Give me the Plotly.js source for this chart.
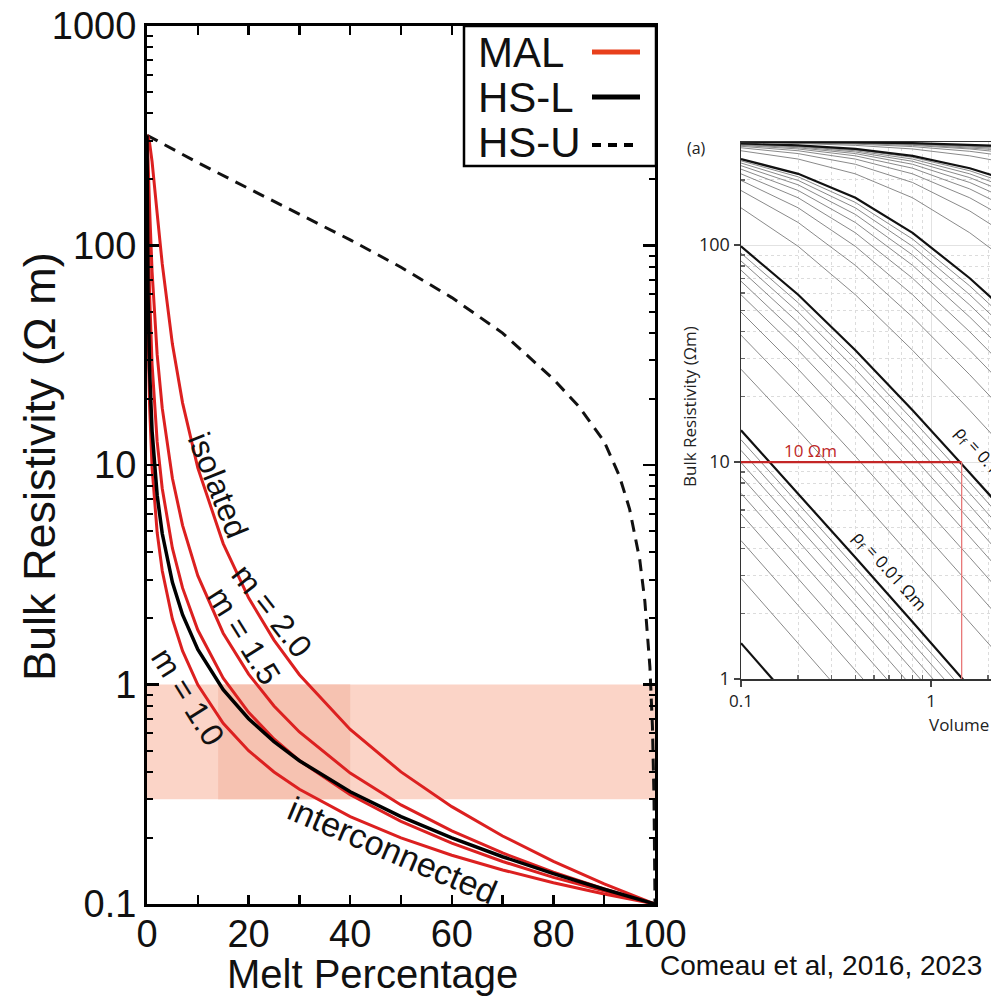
<!DOCTYPE html>
<html><head><meta charset="utf-8">
<script src="https://cdn.plot.ly/plotly-3.0.1.min.js"></script>
<style>html,body{margin:0;padding:0;background:#fff;overflow:hidden}</style>
</head><body><div id="chart" style="width:991px;height:998px"></div>
<script>
// ---------- Left chart: bulk resistivity vs melt percentage ----------
const meltPct = [0, 0.1, 0.2, 0.5, 1, 2, 3, 5, 7, 10, 15, 20, 25, 30, 40, 50, 60, 70, 80, 90, 95, 100];
const malM10  = [318, 76.1, 43.2, 18.82, 9.70, 4.924, 3.300, 1.988, 1.423, 0.997, 0.6655, 0.4994, 0.3996, 0.3331, 0.2499, 0.1999, 0.1667, 0.1429, 0.125, 0.1111, 0.1053, 0.1];
const malM125 = [318, 203.2, 135.6, 60.88, 28.78, 12.77, 7.819, 4.176, 2.755, 1.770, 1.068, 0.7464, 0.565, 0.4501, 0.3144, 0.2378, 0.1894, 0.1562, 0.1322, 0.1141, 0.1067, 0.1];
const malM15  = [318, 288.9, 247.6, 149.7, 76.1, 31.83, 18.15, 8.70, 5.311, 3.132, 1.713, 1.115, 0.7985, 0.6078, 0.395, 0.2828, 0.2152, 0.1708, 0.1398, 0.1172, 0.108, 0.1];
const malM20  = [318, 317, 314, 294.5, 241.2, 140.0, 82.4, 35.55, 19.19, 9.701, 4.386, 2.482, 1.593, 1.108, 0.6242, 0.3997, 0.2777, 0.2041, 0.1563, 0.1235, 0.1108, 0.1];
const hsLower = [318, 101.9, 60.66, 27.38, 14.28, 7.281, 4.875, 2.923, 2.080, 1.444, 0.9473, 0.6986, 0.5492, 0.4495, 0.3247, 0.2499, 0.1999, 0.1642, 0.1375, 0.1167, 0.1079, 0.1];
const hsUpperX = [0, 10, 20, 30, 40, 50, 60, 70, 80, 85, 90, 93, 95, 97, 98, 99, 99.5, 99.8, 100];
const hsUpperY = [318, 238.5, 181.8, 139.2, 106.1, 79.6, 57.9, 39.9, 24.6, 18.5, 12.8, 8.9, 6.3, 3.7, 2.4, 1.2, 0.64, 0.31, 0.1];
const bandX = [0, 100, 100, 0, 0];
const bandY = [0.3, 0.3, 1, 1, 0.3];
const darkBandX = [14, 40, 40, 14, 14];
const darkBandY = [0.3, 0.3, 1, 1, 0.3];
const leftXTicks = [0, 10, 20, 30, 40, 50, 60, 70, 80, 90, 100];
const leftXTickText = ['0', '', '20', '', '40', '', '60', '', '80', '', '100'];
const leftYTicks = [0.1, 1, 10, 100, 1000];
const leftYTickText = ['0.1', '1', '10', '100', '1000'];
const leftYMinor = [0.2,0.3,0.4,0.5,0.6,0.7,0.8,0.9,2,3,4,5,6,7,8,9,20,30,40,50,60,70,80,90,200,300,400,500,600,700,800,900];

// ---------- Right chart (cropped): bulk resistivity vs volume ----------
const volX = [0.1, 0.2, 0.4, 0.8, 1.6, 2.2];
const fluidRes = [0.001,0.002,0.003,0.004,0.005,0.006,0.007,0.008,0.009,
                  0.01,0.02,0.03,0.04,0.05,0.06,0.07,0.08,0.09,
                  0.1,0.2,0.3,0.4,0.5,0.6,0.7,0.8,0.9,
                  1,2,3,4,5,6,7,8,9,
                  10,20,30,40,50,60,70,80,90,100];
const thickRes = [0.001, 0.01, 0.1, 1, 10, 100];
const bulkCurves = [
  [1.463, 0.7332, 0.3671, 0.1837, 0.0919, 0.0668],
  [2.911, 1.4629, 0.7332, 0.3670, 0.1837, 0.1336],
  [4.346, 2.189, 1.0986, 0.5503, 0.2754, 0.2003],
  [5.767, 2.911, 1.4629, 0.7332, 0.3670, 0.2671],
  [7.174, 3.630, 1.8263, 0.9159, 0.4587, 0.3337],
  [8.568, 4.346, 2.189, 1.0986, 0.5503, 0.4004],
  [9.949, 5.056, 2.551, 1.2810, 0.6418, 0.4670],
  [11.32, 5.767, 2.911, 1.4629, 0.7332, 0.5336],
  [12.67, 6.473, 3.271, 1.6447, 0.8246, 0.6001],
  [14.01, 7.17, 3.63, 1.83, 0.917, 0.667],
  [26.78, 14.01, 7.17, 3.63, 1.826, 1.330],
  [38.45, 20.54, 10.63, 5.41, 2.731, 1.991],
  [49.16, 26.78, 14.01, 7.17, 3.63, 2.649],
  [59.04, 32.74, 17.31, 8.91, 4.52, 3.304],
  [68.16, 38.45, 20.54, 10.63, 5.41, 3.956],
  [76.62, 43.92, 23.69, 12.33, 6.30, 4.605],
  [84.48, 49.16, 26.78, 14.01, 7.17, 5.252],
  [91.81, 54.20, 29.79, 15.67, 8.05, 5.895],
  [98.66, 59.04, 32.74, 17.31, 8.91, 6.536],
  [148.5, 98.66, 59.04, 32.74, 17.31, 12.79],
  [178.5, 127.1, 80.62, 46.57, 25.24, 18.79],
  [198.6, 148.5, 98.66, 59.04, 32.74, 24.54],
  [213.0, 165.2, 113.95, 70.33, 39.84, 30.06],
  [223.9, 178.5, 127.1, 80.62, 46.57, 35.37],
  [232.3, 189.5, 138.5, 90.03, 52.96, 40.46],
  [239.0, 198.6, 148.5, 98.66, 59.04, 45.37],
  [244.5, 206.4, 157.3, 106.6, 64.82, 50.09],
  [249.2, 213.0, 165.2, 113.95, 70.33, 54.65],
  [272.2, 249.2, 213.0, 165.2, 113.95, 92.45],
  [280.9, 264.1, 235.8, 194.3, 143.6, 120.2],
  [285.4, 272.2, 249.2, 213.0, 165.2, 141.3],
  [288.2, 277.4, 257.9, 226.2, 181.5, 158.1],
  [290.1, 280.9, 264.1, 235.8, 194.3, 171.6],
  [291.5, 283.5, 268.7, 243.3, 204.6, 182.8],
  [292.5, 285.4, 272.2, 249.2, 213.0, 192.2],
  [293.3, 287.0, 275.1, 253.9, 220.1, 200.2],
  [294.0, 288.2, 277.4, 257.9, 226.2, 207.0],
  [297.0, 294.0, 288.2, 277.4, 257.9, 245.0],
  [298.0, 296.0, 292.1, 284.5, 270.6, 260.9],
  [298.5, 297.0, 294.0, 288.2, 277.4, 269.7],
  [298.8, 297.6, 295.2, 290.5, 281.6, 275.3],
  [299.0, 298.0, 296.0, 292.1, 284.5, 279.1],
  [299.1, 298.3, 296.5, 293.2, 286.6, 281.9],
  [299.2, 298.5, 297.0, 294.0, 288.2, 284.1],
  [299.3, 298.6, 297.3, 294.7, 289.5, 285.7],
  [299.4, 298.8, 297.6, 295.2, 290.5, 287.1]
];
const refHX = [0.1, 1.45], refHY = [10, 10];
const refVX = [1.45, 1.45], refVY = [1, 10];
const rightXTicks = [0.1, 1], rightXTickText = ['0.1', '1'];
const rightYTicks = [1, 10, 100], rightYTickText = ['1', '10', '100'];
const rightXMinor = [0.2,0.3,0.4,0.5,0.6,0.7,0.8,0.9,2];
const rightYMinor = [2,3,4,5,6,7,8,9,20,30,40,50,60,70,80,90,200,300];

// ---------- helpers ----------
const W = 991, H = 998;
const px = v => v / W, py = v => 1 - v / H;
const SANS = 'Liberation Sans, Arial, Helvetica, sans-serif';
const OPEN = 'Open Sans, Noto Sans, sans-serif';
const RED = '#dc2020';

const traces = [];
traces.push({x: bandX, y: bandY, xaxis: 'x', yaxis: 'y', mode: 'lines', fill: 'toself',
  fillcolor: 'rgb(251,212,199)', line: {width: 0}, hoverinfo: 'skip', showlegend: false});
traces.push({x: darkBandX, y: darkBandY, xaxis: 'x', yaxis: 'y', mode: 'lines', fill: 'toself',
  fillcolor: 'rgb(246,194,177)', line: {width: 0}, hoverinfo: 'skip', showlegend: false});
traces.push({x: hsUpperX, y: hsUpperY, mode: 'lines', line: {color: '#111', width: 3, dash: '12px,8px'}, showlegend: false});
[malM10, malM125, malM15, malM20].forEach(arr => {
  traces.push({x: meltPct, y: arr, mode: 'lines', line: {color: RED, width: 3}, showlegend: false});
});
traces.push({x: meltPct, y: hsLower, mode: 'lines', line: {color: '#000', width: 3.5}, showlegend: false});

bulkCurves.forEach((arr, i) => {
  const thick = thickRes.includes(fluidRes[i]);
  traces.push({x: volX, y: arr, xaxis: 'x2', yaxis: 'y2', mode: 'lines',
    line: {color: thick ? '#111' : '#8a8a8a', width: thick ? 2.2 : 1}, showlegend: false});
});
traces.push({x: refHX, y: refHY, xaxis: 'x2', yaxis: 'y2', mode: 'lines', line: {color: 'rgb(196,38,38)', width: 2.2}, showlegend: false});
traces.push({x: refVX, y: refVY, xaxis: 'x2', yaxis: 'y2', mode: 'lines', line: {color: 'rgb(232,120,120)', width: 1.3}, showlegend: false});

const ann = (text, x, y, size, opts = {}) => Object.assign({
  text, x: px(x), y: py(y), xref: 'paper', yref: 'paper', showarrow: false,
  font: {family: SANS, size, color: '#111'}, xanchor: 'center', yanchor: 'middle'}, opts);

const annotations = [
  ann('Bulk Resistivity (Ω m)', 40, 467, 45, {textangle: -90}),
  ann('Melt Percentage', 372, 974, 40),
  ann('isolated', 218, 485, 32, {textangle: 68}),
  ann('m = 2.0', 272, 611, 32, {textangle: 52}),
  ann('m = 1.5', 244, 636, 32, {textangle: 58}),
  ann('m = 1.0', 188, 697, 32, {textangle: 58}),
  ann('interconnected', 392, 850, 34, {textangle: 23}),
  ann('MAL', 476, 52, 42, {xanchor: 'left'}),
  ann('HS-L', 476, 98, 42, {xanchor: 'left'}),
  ann('HS-U', 476, 143, 42, {xanchor: 'left'}),
  ann('Comeau et al, 2016, 2023', 821, 965, 28),
  ann('(a)', 696, 148, 16, {font: {family: OPEN, size: 16, color: '#222'}}),
  ann('Bulk Resistivity (Ωm)', 689, 407, 17, {textangle: -90, font: {family: OPEN, size: 17, color: '#222'}}),
  ann('Volume fraction (%)', 927, 724, 17, {xanchor: 'left', font: {family: OPEN, size: 17, color: '#222'}}),
  ann('10 Ωm', 810, 450, 17, {font: {family: OPEN, size: 17, color: 'rgb(190,40,40)'}}),
  ann('ρ<sub>f</sub> = 0.01 Ωm', 890, 571, 17, {textangle: 48, font: {family: OPEN, size: 17, color: '#111'}}),
  ann('ρ<sub>f</sub> = 0.1 Ωm', 988, 463, 17, {textangle: 48, font: {family: OPEN, size: 17, color: '#111'}})
];

const shapes = [
  {type: 'rect', xref: 'paper', yref: 'paper', x0: px(464), x1: px(656), y0: py(166), y1: py(26),
   line: {color: '#000', width: 2.5}, fillcolor: '#fff', layer: 'above'},
  {type: 'line', xref: 'paper', yref: 'paper', x0: px(592), x1: px(640), y0: py(52), y1: py(52),
   line: {color: '#e8401c', width: 5}},
  {type: 'line', xref: 'paper', yref: 'paper', x0: px(592), x1: px(640), y0: py(97), y1: py(97),
   line: {color: '#000', width: 5}},
  {type: 'line', xref: 'paper', yref: 'paper', x0: px(592), x1: px(640), y0: py(145), y1: py(145),
   line: {color: '#000', width: 4, dash: '9px,7px'}}
];

const layout = {
  width: W, height: H, margin: {l: 0, r: 0, t: 0, b: 0},
  paper_bgcolor: '#fff', plot_bgcolor: 'rgba(0,0,0,0)', showlegend: false,
  xaxis: {domain: [px(147), px(655)], range: [0, 100], tickmode: 'array', tickvals: leftXTicks, ticktext: leftXTickText,
    ticks: 'inside', ticklen: 9, tickwidth: 2.5, tickcolor: '#000', showline: true, linewidth: 3, linecolor: '#000',
    mirror: 'ticks', showgrid: false, zeroline: false, tickfont: {family: SANS, size: 38, color: '#111'}, anchor: 'y',
    ticklabelstandoff: -6},
  yaxis: {domain: [py(904), py(26)], type: 'log', range: [-1, 3], tickmode: 'array', tickvals: leftYTicks, ticktext: leftYTickText,
    ticks: 'inside', ticklen: 12, tickwidth: 2.5, tickcolor: '#000', showline: true, linewidth: 3, linecolor: '#000',
    mirror: 'ticks', showgrid: false, zeroline: false, tickfont: {family: SANS, size: 38, color: '#111'}, anchor: 'x',
    minor: {tickmode: 'array', tickvals: leftYMinor, ticks: 'inside', ticklen: 6, tickwidth: 2, tickcolor: '#000', showgrid: false}},
  xaxis2: {domain: [px(741), 1], type: 'log', range: [-1, 0.3158], anchor: 'y2', tickmode: 'array', tickvals: rightXTicks, ticktext: rightXTickText,
    ticks: 'outside', ticklen: 6, tickwidth: 1.5, tickcolor: '#444', showline: true, linewidth: 1.5, linecolor: '#333', mirror: true,
    showgrid: true, gridcolor: '#e2e2e2', gridwidth: 1, zeroline: false, tickfont: {family: OPEN, size: 17, color: '#222'},
    minor: {tickmode: 'array', tickvals: rightXMinor, ticks: 'inside', ticklen: 4, tickcolor: '#666', showgrid: true, gridcolor: '#dcdcdc', griddash: 'dot', gridwidth: 1}},
  yaxis2: {domain: [py(679), py(142)], type: 'log', range: [0, 2.4752], anchor: 'x2', tickmode: 'array', tickvals: rightYTicks, ticktext: rightYTickText,
    ticks: 'outside', ticklen: 6, tickwidth: 1.5, tickcolor: '#444', showline: true, linewidth: 1.5, linecolor: '#333',
    showgrid: true, gridcolor: '#e2e2e2', gridwidth: 1, zeroline: false, tickfont: {family: OPEN, size: 18, color: '#222'},
    minor: {tickmode: 'array', tickvals: rightYMinor, ticks: 'inside', ticklen: 4, tickcolor: '#666', showgrid: true, gridcolor: '#dcdcdc', griddash: 'dot', gridwidth: 1}},
  annotations, shapes
};

Plotly.newPlot('chart', traces, layout, {staticPlot: true, displayModeBar: false});
</script></body></html>
